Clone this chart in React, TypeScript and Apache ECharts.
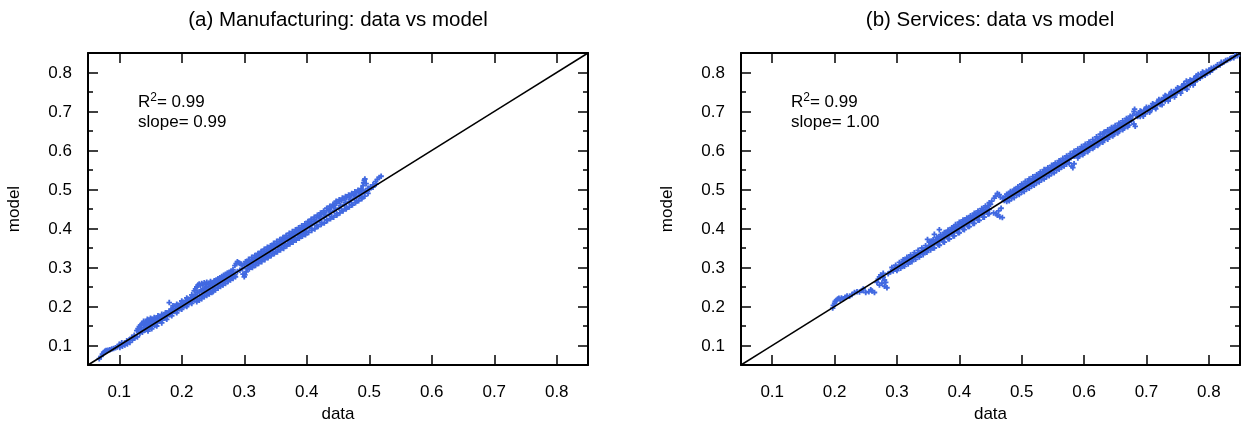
import React, { useEffect, useRef } from "react";
import * as echarts from "echarts";

const FONT = "'Liberation Sans', Arial, Helvetica, sans-serif";

const panelTitles = ["(a) Manufacturing: data vs model", "(b) Services: data vs model"];
const r2Values = ["0.99", "0.99"];
const slopeValues = ["0.99", "1.00"];
const axisMin = 0.05;
const axisMax = 0.85;
const majorTicks = [0.1, 0.2, 0.3, 0.4, 0.5, 0.6, 0.7, 0.8];
const minorTicks = [0.15, 0.25, 0.35, 0.45, 0.55, 0.65, 0.75];
const diagonal: [number, number][] = [[0.05, 0.05], [0.85, 0.85]];

const mfgPoints: [number, number][] = [
  [0.068,0.066],[0.071,0.072],[0.073,0.078],[0.075,0.082],[0.077,0.085],[0.079,0.087],[0.082,0.088],[0.085,0.089],[0.088,0.091],[0.091,0.092],[0.094,0.094],[0.097,0.096],
  [0.101,0.095],[0.105,0.098],[0.109,0.101],[0.113,0.104],[0.117,0.108],[0.121,0.114],[0.125,0.119],[0.129,0.122],
  [0.128,0.138],[0.130,0.143],[0.132,0.148],[0.134,0.152],[0.136,0.155],[0.138,0.157],[0.140,0.153],[0.142,0.159],[0.144,0.162],[0.146,0.158],[0.148,0.164],[0.150,0.161],[0.152,0.167],[0.155,0.164],[0.158,0.168],[0.161,0.171],[0.164,0.173],[0.167,0.171],[0.170,0.176],[0.173,0.178],
  [0.133,0.131],[0.137,0.134],[0.141,0.139],[0.145,0.141],[0.149,0.146],[0.153,0.150],[0.157,0.152],[0.161,0.158],[0.165,0.162],[0.169,0.165],[0.173,0.170],[0.177,0.175],[0.181,0.179],[0.185,0.183],[0.189,0.187],[0.193,0.190],[0.197,0.194],[0.201,0.198],[0.205,0.202],[0.209,0.205],[0.213,0.210],[0.217,0.213],[0.221,0.218],[0.225,0.221],[0.229,0.226],[0.233,0.229],[0.237,0.234],[0.241,0.237],[0.245,0.240],[0.249,0.245],[0.253,0.248],[0.257,0.253],[0.261,0.257],[0.265,0.262],[0.269,0.266],[0.273,0.270],[0.277,0.274],[0.281,0.278],[0.285,0.281],
  [0.176,0.184],[0.180,0.188],[0.183,0.193],[0.180,0.210],[0.186,0.195],[0.190,0.200],[0.194,0.203],[0.198,0.207],[0.202,0.211],[0.206,0.215],[0.210,0.219],[0.214,0.222],[0.218,0.226],
  [0.220,0.240],[0.222,0.245],[0.224,0.250],[0.226,0.255],[0.228,0.258],[0.230,0.254],[0.232,0.259],[0.234,0.256],[0.236,0.261],[0.238,0.257],[0.240,0.262],[0.243,0.259],[0.246,0.264],[0.249,0.261],[0.252,0.266],[0.255,0.268],[0.258,0.271],[0.261,0.274],[0.264,0.277],[0.267,0.280],[0.270,0.283],[0.273,0.286],[0.276,0.288],[0.279,0.291],[0.282,0.294],
  [0.236,0.225],[0.240,0.228],[0.244,0.232],[0.248,0.236],
  [0.285,0.305],[0.287,0.310],[0.289,0.315],[0.291,0.312],[0.293,0.310],[0.295,0.309],[0.297,0.306],[0.289,0.290],[0.293,0.293],[0.297,0.297],[0.298,0.283],[0.300,0.276],[0.301,0.281],[0.303,0.289],
  [0.300,0.308],[0.304,0.313],[0.308,0.317],[0.312,0.320],[0.316,0.325],[0.320,0.329],[0.324,0.333],[0.328,0.337],[0.332,0.342],[0.336,0.346],[0.340,0.350],[0.344,0.354],[0.348,0.358],[0.352,0.362],[0.356,0.366],[0.360,0.369],[0.364,0.373],[0.368,0.377],[0.372,0.382],[0.376,0.386],[0.380,0.390],[0.384,0.394],[0.388,0.397],[0.392,0.401],[0.396,0.405],[0.400,0.409],
  [0.306,0.306],[0.314,0.315],[0.322,0.322],[0.330,0.331],[0.338,0.338],[0.346,0.347],[0.354,0.354],[0.362,0.363],[0.370,0.370],[0.378,0.379],[0.386,0.386],[0.394,0.395],
  [0.305,0.298],[0.310,0.302],[0.315,0.307],[0.320,0.312],[0.325,0.317],[0.330,0.322],[0.335,0.327],[0.340,0.331],[0.345,0.337],[0.350,0.341],[0.355,0.346],[0.360,0.351],[0.365,0.356],[0.370,0.361],[0.375,0.366],[0.380,0.371],[0.385,0.376],[0.390,0.381],[0.395,0.386],[0.400,0.391],
  [0.404,0.414],[0.408,0.418],[0.412,0.423],[0.416,0.428],[0.420,0.432],[0.424,0.437],[0.428,0.441],[0.432,0.446],[0.436,0.450],[0.440,0.455],[0.444,0.460],[0.448,0.465],[0.452,0.469],[0.456,0.472],[0.460,0.476],[0.464,0.479],[0.468,0.482],[0.472,0.486],[0.476,0.489],[0.480,0.492],[0.484,0.494],[0.488,0.498],
  [0.404,0.404],[0.412,0.413],[0.420,0.420],[0.428,0.429],[0.436,0.436],[0.444,0.445],[0.452,0.452],[0.460,0.461],[0.468,0.468],[0.476,0.477],[0.484,0.484],[0.492,0.493],[0.500,0.500],[0.506,0.506],
  [0.408,0.400],[0.416,0.407],[0.424,0.415],[0.432,0.422],[0.440,0.430],[0.448,0.438],[0.456,0.446],[0.464,0.454],[0.472,0.462],[0.480,0.471],[0.488,0.479],
  [0.490,0.510],[0.491,0.517],[0.492,0.523],[0.493,0.527],[0.495,0.515],
  [0.498,0.503],[0.502,0.507],[0.506,0.512],[0.510,0.520],[0.513,0.526],[0.516,0.531],[0.519,0.534],[0.511,0.514],
  [0.100,0.103],[0.104,0.107],[0.108,0.106],[0.112,0.112],[0.116,0.115],[0.120,0.121],[0.124,0.126],
  [0.131,0.136],[0.135,0.142],[0.139,0.146],[0.143,0.150],[0.147,0.153],[0.151,0.155],[0.154,0.158],[0.157,0.160],[0.160,0.163],[0.163,0.166],[0.166,0.167],[0.169,0.171],[0.172,0.174],[0.175,0.178],[0.178,0.181],[0.182,0.185],[0.186,0.189],[0.190,0.193],[0.194,0.197],[0.198,0.201],[0.202,0.205],[0.206,0.209],[0.210,0.213],[0.214,0.217],[0.218,0.221],
  [0.222,0.230],[0.225,0.235],[0.228,0.238],[0.231,0.241],[0.234,0.243],[0.237,0.246],[0.240,0.249],[0.243,0.251],[0.246,0.254],[0.249,0.256],[0.252,0.258],[0.255,0.261],[0.258,0.263],[0.261,0.266],[0.264,0.269],[0.267,0.272],[0.270,0.275],[0.273,0.278],[0.276,0.281],[0.279,0.284],[0.282,0.288],
  [0.224,0.212],[0.228,0.216],[0.232,0.220],[0.250,0.238],[0.254,0.242],[0.258,0.247],[0.262,0.251],[0.266,0.255],[0.270,0.259],[0.274,0.264],[0.278,0.268],[0.282,0.272],[0.286,0.276],
  [0.302,0.315],[0.307,0.321],[0.312,0.326],[0.317,0.331],[0.322,0.336],[0.327,0.341],[0.332,0.347],[0.337,0.352],[0.342,0.356],[0.347,0.362],[0.352,0.367],[0.357,0.372],[0.362,0.377],[0.367,0.382],[0.372,0.388],[0.377,0.392],[0.382,0.397],[0.387,0.402],[0.392,0.407],[0.397,0.412],[0.402,0.418],[0.407,0.424],[0.412,0.429],[0.417,0.434],[0.422,0.440],[0.427,0.445],[0.432,0.452],[0.437,0.457],[0.442,0.462],[0.447,0.470],[0.452,0.474],[0.457,0.478],[0.462,0.482],[0.467,0.486],[0.472,0.490],[0.477,0.494],[0.482,0.498],[0.487,0.502],
  [0.308,0.296],[0.313,0.300],[0.318,0.305],[0.323,0.310],[0.328,0.315],[0.333,0.320],[0.338,0.325],[0.343,0.330],[0.348,0.335],[0.353,0.340],[0.358,0.345],[0.363,0.349],[0.368,0.355],[0.373,0.360],[0.378,0.365],[0.383,0.370],[0.388,0.375],[0.393,0.380],[0.398,0.384],[0.403,0.390],[0.408,0.395],[0.413,0.399],[0.418,0.405],[0.423,0.410],[0.428,0.414],[0.433,0.420],[0.438,0.425],[0.443,0.429],[0.448,0.434],[0.453,0.440],[0.458,0.445],[0.463,0.450],[0.468,0.455],[0.473,0.460],[0.478,0.466],[0.483,0.471],[0.488,0.476],[0.493,0.483],[0.498,0.490],
  [0.310,0.310],[0.318,0.320],[0.326,0.327],[0.334,0.336],[0.342,0.344],[0.350,0.352],[0.358,0.360],[0.366,0.368],[0.374,0.376],[0.382,0.384],[0.390,0.392],[0.398,0.400],[0.406,0.409],[0.414,0.418],[0.422,0.426],[0.430,0.434],[0.438,0.443],[0.446,0.451],[0.454,0.459],[0.462,0.467],[0.470,0.474],[0.478,0.482],[0.486,0.489],[0.494,0.497],
  [0.139,0.162],[0.145,0.167],[0.150,0.170],[0.156,0.172],[0.162,0.176],[0.168,0.180],[0.174,0.184],[0.186,0.202],[0.192,0.206],[0.200,0.214],[0.208,0.222],[0.216,0.230],[0.146,0.137],[0.152,0.143],[0.160,0.150],[0.168,0.158],[0.176,0.167],[0.184,0.176],[0.192,0.184],[0.200,0.193],[0.208,0.200],[0.216,0.208]
];

const svcPoints: [number, number][] = [
  [0.197,0.196],[0.198,0.203],[0.200,0.208],[0.201,0.213],[0.203,0.216],[0.205,0.219],[0.207,0.221],[0.209,0.218],[0.211,0.222],[0.214,0.220],[0.217,0.224],[0.220,0.227],[0.224,0.226],[0.228,0.231],[0.232,0.236],[0.236,0.238],[0.240,0.237],[0.244,0.241],
  [0.246,0.245],[0.250,0.236],[0.255,0.238],[0.260,0.240],[0.264,0.236],[0.258,0.243],
  [0.268,0.262],[0.270,0.270],[0.272,0.276],[0.274,0.281],[0.276,0.278],[0.278,0.275],[0.280,0.268],[0.282,0.262],[0.272,0.255],[0.276,0.260],[0.280,0.252],[0.284,0.248],[0.278,0.285],
  [0.286,0.284],[0.290,0.289],[0.294,0.291],[0.298,0.296],[0.302,0.300],[0.306,0.303],[0.308,0.310],[0.310,0.315],[0.312,0.318],[0.314,0.320],[0.316,0.322],[0.318,0.320],[0.320,0.323],[0.322,0.326],[0.324,0.324],[0.326,0.328],[0.328,0.331],[0.330,0.333],[0.332,0.332],[0.334,0.336],[0.336,0.338],[0.338,0.337],[0.340,0.341],[0.342,0.343],[0.344,0.346],[0.346,0.345],[0.348,0.350],[0.350,0.352],
  [0.310,0.306],[0.318,0.313],[0.326,0.321],[0.334,0.330],[0.342,0.337],[0.350,0.345],
  [0.349,0.372],[0.360,0.385],[0.368,0.397],[0.355,0.368],
  [0.354,0.362],[0.358,0.366],[0.362,0.371],[0.366,0.375],[0.370,0.380],[0.374,0.384],[0.378,0.389],[0.382,0.392],[0.386,0.397],[0.390,0.402],[0.394,0.406],[0.398,0.410],[0.402,0.414],[0.406,0.418],[0.410,0.421],[0.414,0.425],[0.418,0.429],[0.422,0.433],[0.426,0.437],[0.430,0.441],[0.434,0.445],[0.438,0.449],[0.442,0.454],[0.446,0.458],[0.450,0.462],
  [0.356,0.356],[0.364,0.364],[0.372,0.373],[0.380,0.381],[0.388,0.389],[0.396,0.397],[0.404,0.405],[0.412,0.413],[0.420,0.421],[0.428,0.429],[0.436,0.437],[0.444,0.445],
  [0.358,0.350],[0.366,0.359],[0.374,0.366],[0.382,0.374],[0.390,0.381],[0.398,0.389],[0.406,0.398],[0.414,0.405],[0.422,0.413],[0.430,0.421],[0.438,0.429],[0.446,0.437],
  [0.452,0.470],[0.456,0.478],[0.458,0.483],[0.461,0.490],[0.464,0.487],[0.466,0.480],[0.455,0.440],[0.459,0.438],[0.461,0.434],[0.465,0.430],[0.469,0.428],[0.463,0.445],[0.467,0.452],
  [0.470,0.478],[0.474,0.482],[0.478,0.487],[0.482,0.491],[0.486,0.495],[0.490,0.500],[0.494,0.503],[0.498,0.508],[0.502,0.511],[0.506,0.516],[0.510,0.520],[0.514,0.524],[0.518,0.528],[0.522,0.532],[0.526,0.536],[0.530,0.541],[0.534,0.544],[0.538,0.548],[0.542,0.552],[0.546,0.556],[0.550,0.560],[0.554,0.564],[0.558,0.568],[0.562,0.571],[0.566,0.575],[0.570,0.579],[0.574,0.583],[0.578,0.587],
  [0.472,0.472],[0.480,0.481],[0.488,0.488],[0.496,0.497],[0.504,0.504],[0.512,0.513],[0.520,0.520],[0.528,0.529],[0.536,0.536],[0.544,0.545],[0.552,0.552],[0.560,0.561],[0.568,0.568],[0.576,0.577],
  [0.476,0.469],[0.484,0.477],[0.492,0.485],[0.500,0.493],[0.508,0.501],[0.516,0.509],[0.524,0.517],[0.532,0.525],[0.540,0.533],[0.548,0.541],[0.556,0.549],[0.564,0.557],[0.572,0.565],
  [0.581,0.585],[0.580,0.560],[0.582,0.556],[0.584,0.566],
  [0.582,0.591],[0.586,0.595],[0.590,0.598],[0.594,0.602],[0.598,0.606],[0.602,0.611],[0.606,0.615],[0.610,0.619],[0.614,0.622],[0.618,0.626],[0.622,0.631],[0.626,0.636],[0.630,0.642],[0.634,0.648],[0.638,0.650],[0.642,0.652],[0.646,0.655],[0.650,0.659],[0.654,0.663],[0.658,0.667],[0.662,0.671],[0.666,0.675],[0.670,0.679],[0.674,0.683],[0.678,0.690],[0.680,0.700],[0.681,0.706],
  [0.588,0.588],[0.596,0.597],[0.604,0.604],[0.612,0.613],[0.620,0.620],[0.628,0.629],[0.636,0.637],[0.644,0.644],[0.652,0.653],[0.660,0.660],[0.668,0.669],[0.676,0.676],
  [0.592,0.585],[0.600,0.593],[0.608,0.601],[0.616,0.609],[0.624,0.617],[0.632,0.626],[0.640,0.634],[0.648,0.641],[0.656,0.649],[0.664,0.657],[0.672,0.665],[0.680,0.668],[0.682,0.662],
  [0.684,0.693],[0.688,0.697],[0.692,0.700],[0.696,0.703],[0.700,0.707],[0.704,0.710],[0.708,0.713],[0.712,0.718],[0.716,0.722],[0.720,0.727],[0.724,0.731],[0.728,0.735],[0.732,0.739],[0.736,0.742],[0.740,0.747],[0.744,0.751],[0.748,0.755],[0.752,0.759],[0.756,0.763],[0.760,0.768],[0.764,0.778],[0.768,0.775],[0.772,0.779],[0.776,0.784],[0.780,0.789],[0.783,0.795],[0.788,0.796],[0.792,0.799],[0.796,0.803],[0.800,0.806],[0.804,0.811],[0.808,0.813],[0.814,0.820],[0.820,0.826],[0.827,0.831],[0.834,0.835],[0.840,0.838],[0.846,0.843],
  [0.690,0.687],[0.698,0.694],[0.706,0.702],[0.714,0.710],[0.722,0.718],[0.730,0.727],[0.738,0.735],[0.746,0.743],[0.754,0.751],[0.762,0.760],[0.770,0.768],[0.778,0.776],[0.786,0.785],[0.794,0.793],[0.802,0.801],
  [0.292,0.300],[0.298,0.306],[0.304,0.313],[0.310,0.320],[0.316,0.326],[0.322,0.332],[0.328,0.338],[0.334,0.344],[0.340,0.350],[0.346,0.356],[0.352,0.365],[0.358,0.371],[0.364,0.377],[0.370,0.384],[0.376,0.390],[0.382,0.396],[0.388,0.402],[0.394,0.410],[0.400,0.416],[0.406,0.422],[0.412,0.427],[0.418,0.433],[0.424,0.439],[0.430,0.445],[0.436,0.451],[0.442,0.458],[0.448,0.466],[0.476,0.488],[0.482,0.495],[0.488,0.500],[0.494,0.507],[0.500,0.514],[0.506,0.521],[0.512,0.527],[0.518,0.533],[0.524,0.538],[0.530,0.545],[0.536,0.551],[0.542,0.556],[0.548,0.562],[0.554,0.568],[0.560,0.574],[0.566,0.580],[0.572,0.586],[0.578,0.592],[0.584,0.598],[0.590,0.604],[0.596,0.610],[0.602,0.616],[0.608,0.622],[0.614,0.628],[0.620,0.635],[0.626,0.642],[0.632,0.647],[0.638,0.653],[0.644,0.659],[0.650,0.664],[0.656,0.670],[0.662,0.676],[0.668,0.682],[0.674,0.688],[0.690,0.701],[0.700,0.711],[0.710,0.720],[0.720,0.731],[0.730,0.741],[0.740,0.751],[0.750,0.761],[0.760,0.771],[0.770,0.781],[0.780,0.791],[0.790,0.801],
  [0.300,0.292],[0.306,0.298],[0.312,0.303],[0.318,0.309],[0.324,0.315],[0.330,0.321],[0.336,0.327],[0.342,0.333],[0.348,0.339],[0.354,0.345],[0.360,0.350],[0.368,0.357],[0.376,0.365],[0.384,0.373],[0.392,0.381],[0.400,0.389],[0.408,0.397],[0.416,0.405],[0.424,0.413],[0.432,0.421],[0.440,0.429],[0.448,0.438],[0.480,0.471],[0.488,0.479],[0.496,0.487],[0.504,0.495],[0.512,0.503],[0.520,0.511],[0.528,0.519],[0.536,0.527],[0.544,0.535],[0.552,0.543],[0.560,0.552],[0.568,0.560],[0.576,0.568],[0.590,0.581],[0.598,0.589],[0.606,0.597],[0.614,0.605],[0.622,0.613],[0.630,0.621],[0.638,0.629],[0.646,0.637],[0.654,0.645],[0.662,0.653],[0.670,0.661],[0.695,0.688],[0.705,0.698],[0.715,0.707],[0.725,0.717],[0.735,0.727],[0.745,0.737],[0.755,0.747],[0.765,0.757],[0.775,0.768],
  [0.296,0.297],[0.304,0.305],[0.312,0.313],[0.320,0.321],[0.328,0.329],[0.336,0.337],[0.344,0.345],[0.352,0.353],[0.360,0.361],[0.368,0.369],[0.376,0.377],[0.384,0.385],[0.392,0.393],[0.400,0.401],[0.408,0.409],[0.416,0.417],[0.424,0.425],[0.432,0.433],[0.440,0.441],[0.448,0.449],[0.474,0.475],[0.484,0.485],[0.492,0.493],[0.500,0.501],[0.508,0.509],[0.516,0.517],[0.524,0.525],[0.532,0.533],[0.540,0.541],[0.548,0.549],[0.556,0.557],[0.564,0.565],[0.572,0.573],[0.584,0.585],[0.592,0.593],[0.600,0.601],[0.608,0.609],[0.616,0.617],[0.624,0.625],[0.632,0.633],[0.640,0.641],[0.648,0.649],[0.656,0.657],[0.664,0.665],[0.672,0.673],[0.686,0.687],[0.694,0.695],[0.702,0.703],[0.710,0.711],[0.718,0.719],[0.726,0.727],[0.734,0.735],[0.742,0.743],[0.750,0.751],[0.758,0.759],[0.766,0.767],[0.774,0.775],[0.782,0.783],[0.790,0.791],[0.798,0.799],[0.806,0.807],[0.812,0.814],[0.818,0.819],[0.824,0.826],[0.830,0.832],[0.836,0.837],[0.842,0.843]
];

const PLUS = "path://M2,0L4,0L4,2L6,2L6,4L4,4L4,6L2,6L2,4L0,4L0,2L2,2Z";
const BLUE = "#4169e1";

const grids = [
  { left: 88, top: 53, width: 500, height: 312 },
  { left: 741, top: 53, width: 499, height: 312 },
];
const textX = [138, 791];
const titleX = [338, 990];

function buildXAxes(gi: number) {
  const line = { show: true, onZero: false, lineStyle: { color: "#000", width: 2 } };
  const tick = { show: true, inside: true, length: 10, customValues: majorTicks, lineStyle: { color: "#000", width: 1.5 } };
  return [
    {
      type: "value", gridIndex: gi, position: "bottom", min: axisMin, max: axisMax,
      axisLine: line, axisTick: tick, splitLine: { show: false },
      axisLabel: { show: true, customValues: majorTicks, formatter: (v: number) => v.toFixed(1), margin: 18, fontSize: 17, color: "#000", fontFamily: FONT },
      name: "data", nameLocation: "middle", nameGap: 37,
      nameTextStyle: { fontSize: 17, color: "#000", fontFamily: FONT },
    },
    {
      type: "value", gridIndex: gi, position: "top", min: axisMin, max: axisMax,
      axisLine: line, axisTick: tick, splitLine: { show: false }, axisLabel: { show: false },
    },
  ];
}

function buildYAxes(gi: number) {
  const line = { show: true, onZero: false, lineStyle: { color: "#000", width: 2 } };
  const major = { show: true, inside: true, length: 10, customValues: majorTicks, lineStyle: { color: "#000", width: 1.5 } };
  const minor = { show: true, inside: true, length: 5, customValues: minorTicks, lineStyle: { color: "#000", width: 1.5 } };
  const base = { type: "value", gridIndex: gi, min: axisMin, max: axisMax, splitLine: { show: false } };
  return [
    {
      ...base, position: "left", axisLine: line, axisTick: major,
      axisLabel: { show: true, customValues: majorTicks, formatter: (v: number) => v.toFixed(1), margin: 16, fontSize: 17, color: "#000", fontFamily: FONT },
      name: "model", nameLocation: "middle", nameGap: 66, nameRotate: 90,
      nameTextStyle: { fontSize: 17, color: "#000", fontFamily: FONT },
    },
    { ...base, position: "left", axisLine: { show: false }, axisTick: minor, axisLabel: { show: false } },
    { ...base, position: "right", axisLine: line, axisTick: major, axisLabel: { show: false } },
    { ...base, position: "right", axisLine: { show: false }, axisTick: minor, axisLabel: { show: false } },
  ];
}

export default function App() {
  const ref = useRef<HTMLDivElement>(null);
  useEffect(() => {
    if (!ref.current) return;
    const chart = echarts.init(ref.current, null, { renderer: "svg" });
    const panels = [mfgPoints, svcPoints];
    const series: any[] = [];
    panels.forEach((pts, i) => {
      series.push({
        type: "scatter", xAxisIndex: i * 2, yAxisIndex: i * 4, data: pts,
        symbol: PLUS, symbolSize: 5.5, itemStyle: { color: BLUE, opacity: 1 },
        silent: true, z: 2,
      });
      series.push({
        type: "line", xAxisIndex: i * 2, yAxisIndex: i * 4, data: diagonal,
        showSymbol: false, symbol: "none", lineStyle: { color: "#000", width: 1.6 },
        silent: true, z: 3,
      });
    });
    const graphic: any[] = [];
    panels.forEach((_, i) => {
      graphic.push({
        type: "text", x: titleX[i], y: 18,
        style: { text: panelTitles[i], fontSize: 20.5, fill: "#000", align: "center", verticalAlign: "middle", fontFamily: FONT },
      });
      graphic.push({
        type: "text", x: textX[i], y: 101,
        style: {
          text: "{r|R}{s|2}{r|= " + r2Values[i] + "}",
          fill: "#000", verticalAlign: "middle", align: "left", fontFamily: FONT,
          rich: {
            r: { fontSize: 17, fill: "#000", fontFamily: FONT },
            s: { fontSize: 12, fill: "#000", fontFamily: FONT, padding: [0, 0, 9, 0] },
          },
        },
      });
      graphic.push({
        type: "text", x: textX[i], y: 121,
        style: { text: "slope= " + slopeValues[i], fontSize: 17, fill: "#000", verticalAlign: "middle", align: "left", fontFamily: FONT },
      });
    });
    chart.setOption({
      animation: false,
      textStyle: { fontFamily: FONT },
      grid: grids.map((g) => ({ ...g, containLabel: false })),
      xAxis: [...buildXAxes(0), ...buildXAxes(1)],
      yAxis: [...buildYAxes(0), ...buildYAxes(1)],
      series,
      graphic,
    });
    return () => chart.dispose();
  }, []);
  return <div ref={ref} style={{ position: "fixed", left: 0, top: 0, width: 1241, height: 427 }} />;
}
